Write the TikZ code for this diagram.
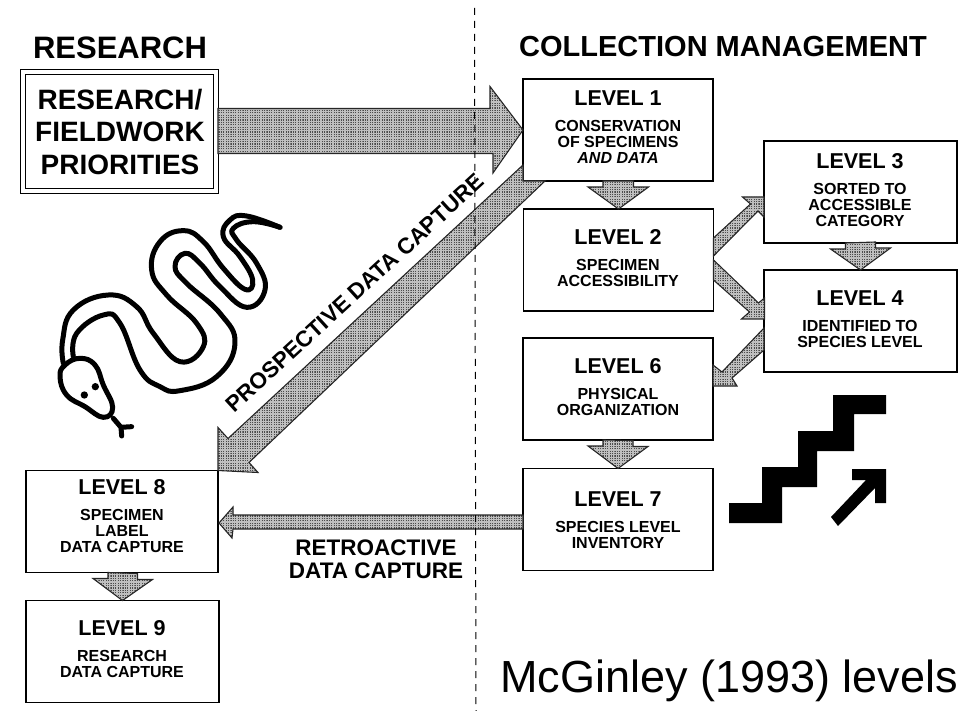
\documentclass[tikz,border=0pt]{standalone}
\usepackage{fontspec}
\setmainfont{Liberation Sans}
\usetikzlibrary{calc,patterns}
\pgfdeclarepatternformonly{stipple}{\pgfqpoint{0pt}{0pt}}{\pgfqpoint{2pt}{2pt}}{\pgfqpoint{2.4pt}{2.4pt}}{\pgfpathrectangle{\pgfqpoint{0pt}{0pt}}{\pgfqpoint{1.1pt}{1.1pt}}\pgfusepath{fill}}
\newcommand{\levhead}[1]{{\fontsize{21.5}{26}\selectfont #1}}
\tikzset{
  levelbox/.style={draw,line width=1.2pt,inner sep=0pt,outer sep=0pt,minimum width=190pt,minimum height=102pt},
  levtext/.style={align=center,inner sep=0pt,font=\fontsize{16}{16.2}\selectfont\bfseries},
  headtext/.style={inner sep=0pt,font=\fontsize{29}{33}\selectfont\bfseries},
  fatarrow/.style={draw=black!85,line width=1.1pt,preaction={fill=black!25},pattern=stipple,pattern color=black!70,line join=miter},
  icon/.style={fill=black,draw=none},
  snakeline/.style={line width=5pt,line cap=round,line join=round}
}
\newcommand{\fatdown}[3][15]{%
\draw[fatarrow] ($(#2.south)+(-#1,0)$) -- ++(0,6) -- ++(-15,0) -- (#3.north) -- ++(30,-21-1) -- ++(-15,0) -- ++(0,-6) -- cycle;}
\begin{document}
\begin{tikzpicture}[x=1pt,y=-1pt]
\useasboundingbox (0,0) rectangle (972,711);

% headings
\node[headtext,font=\fontsize{31}{33}\selectfont\bfseries] (research) at (120,48) {RESEARCH};
\node[headtext] (management) at (723,47) {COLLECTION MANAGEMENT};

% boxes
\node[draw,double,double distance=3.6pt,line width=1.1pt,inner sep=0pt,outer sep=0pt,minimum width=193pt,minimum height=119pt] (priorities) at (119.5,131.5) {};
\node[align=center,inner sep=0pt,font=\fontsize{28}{32.5}\selectfont\bfseries] (prioritiestxt) at (120,131.5) {RESEARCH/\\FIELDWORK\\PRIORITIES};

\node[levelbox] (lev1) at (618,130) {};
\node[levtext] (lev1txt) at (618,127) {\levhead{LEVEL 1}\\[9.8pt]CONSERVATION\\OF SPECIMENS\\\textit{AND DATA}};
\node[levelbox] (lev2) at (618.5,260) {};
\node[levtext] (lev2txt) at (618,258) {\levhead{LEVEL 2}\\[9.8pt]SPECIMEN\\ACCESSIBILITY};
\node[levelbox,minimum width=193pt] (lev3) at (860.5,192) {};
\node[levtext] (lev3txt) at (860,190) {\levhead{LEVEL 3}\\[9.8pt]SORTED TO\\ACCESSIBLE\\CATEGORY};
\node[levelbox,minimum width=193pt] (lev4) at (860.5,321) {};
\node[levtext] (lev4txt) at (860,319) {\levhead{LEVEL 4}\\[9.8pt]IDENTIFIED TO\\SPECIES LEVEL};
\node[levelbox] (lev6) at (618,389) {};
\node[levtext] (lev6txt) at (618,387) {\levhead{LEVEL 6}\\[9.8pt]PHYSICAL\\ORGANIZATION};
\node[levelbox] (lev7) at (618,519.5) {};
\node[levtext] (lev7txt) at (618,520) {\levhead{LEVEL 7}\\[9.8pt]SPECIES LEVEL\\INVENTORY};
\node[levelbox,minimum width=192pt] (lev8) at (122,521.5) {};
\node[levtext] (lev8txt) at (122,516) {\levhead{LEVEL 8}\\[9.8pt]SPECIMEN\\LABEL\\DATA CAPTURE};
\node[levelbox,minimum width=193pt] (lev9) at (122.5,651.5) {};
\node[levtext] (lev9txt) at (122,649) {\levhead{LEVEL 9}\\[9.8pt]RESEARCH\\DATA CAPTURE};

% arrows
\draw[fatarrow] ($(priorities.east)+(2,-23)$) -- ++(272,0) -- ++(0,-22) -- (lev1.west) -- ++(-30,43) -- ++(0,-19.5) -- ($(priorities.east)+(2,22)$) -- cycle;
\draw[fatarrow] ($(lev1.south west)+(0,-16)$) -- ($(lev8.north east)+(10,-32)$) -- ++(-10,-11) -- (lev8.north east) -- ++(40,2) -- ++(-9,-10) -- ($(lev1.south west)+(22,0)$) -- (lev1.south west) -- cycle;
\fatdown{lev1}{lev2}
\fatdown{lev3}{lev4}
\fatdown{lev6}{lev7}
\draw[fatarrow] ($(lev8.south)+(-14,0)$) -- ++(0,6) -- ++(-15,0) -- (lev9.north) -- ++(30,-21) -- ++(-15,0) -- ++(0,-6) -- cycle;
\draw[fatarrow] ($(lev2.east)+(0,-22)$) -- ++(37,-34) -- ++(-8,-7) -- ($(lev3.west)+(0,5)$) -- ++(0,20) -- ++(-6,-6) -- ($(lev2.east)+(0,-4)$) -- cycle;
\draw[fatarrow] ($(lev2.east)+(0,0)$) -- ++(45,43) -- ++(6,-5) -- ++(0,21) -- ++(-23,0) -- ++(8,-7) -- ($(lev2.east)+(0,20)$) -- cycle;
\draw[fatarrow] ($(lev4.west)+(0,7)$) -- (722,372) -- ++(-9,-7) -- ++(0,21) -- ++(24,0) -- ++(-5,-8) -- ($(lev4.west)+(0,29)$) -- cycle;
\draw[fatarrow] ($(lev7.west)+(0,-4.5)$) -- (233,515) -- ++(0,-8) -- ($(lev8.east)+(1,1.5)$) -- (232,538) -- ++(1,-9) -- ($(lev7.west)+(0,9.5)$) -- cycle;

% boundary between the two halves
\draw[dashed,dash pattern=on 7pt off 6pt,line width=1pt] (474.5,8) -- (476,711);

% labels
\node[inner sep=0pt,rotate=42.5,font=\fontsize{22.5}{26}\selectfont\bfseries] (prospective) at (354.5,293) {PROSPECTIVE DATA CAPTURE};
\node[align=center,inner sep=0pt,font=\fontsize{22.5}{23}\selectfont\bfseries] (retroactive) at (376,559) {RETROACTIVE\\DATA CAPTURE};
\node[anchor=base west,inner sep=0pt,font=\fontsize{45}{50}\selectfont] (credit) at (500,692) {McGinley (1993) levels};

% stairs
\fill[icon] (729,503) -- (762,503) -- (762,467) -- (798,467) -- (798,431) -- (833,431) -- (833,395) -- (886,395) -- (886,414) -- (854,414) -- (854,451) -- (817,451) -- (817,487) -- (782,487) -- (782,523) -- (729,523) -- cycle;
\fill[icon] (852,469) -- (886,469) -- (886,503) -- (875,503) -- (875,488) -- (838,526) -- (831,517) -- (866,480) -- (852,480) -- cycle;

% snake
\begin{scope}[shift={(40,200)},scale=1/3]
\draw[snakeline] plot[smooth,tension=0.75] coordinates {(70,490) (68,420) (100,330) (205,285) (290,320) (340,400) (420,485) (490,440) (470,370) (380,285) (335,210) (360,125) (430,92) (490,125) (550,205) (615,268) (638,240) (600,170) (550,110) (570,60) (620,48) (720,82)};
\draw[snakeline] plot[smooth,tension=0.75] coordinates {(100,470) (110,400) (190,345) (240,370) (300,510) (360,560) (420,572) (530,530) (585,430) (540,340) (440,250) (405,200) (435,160) (480,190) (540,260) (620,322) (675,270) (650,190) (590,120) (580,85) (640,65) (720,82)};
\draw[snakeline] plot[smooth cycle,tension=0.75] coordinates {(60,530) (75,495) (120,475) (165,495) (190,555) (218,622) (190,652) (135,620) (80,585)};
\fill (133,585) circle (11);
\fill (166,560) circle (11);
\draw[snakeline] (220,655) -- (243,682) -- (275,680) (243,682) -- (245,708);
\end{scope}
\end{tikzpicture}
\end{document}
